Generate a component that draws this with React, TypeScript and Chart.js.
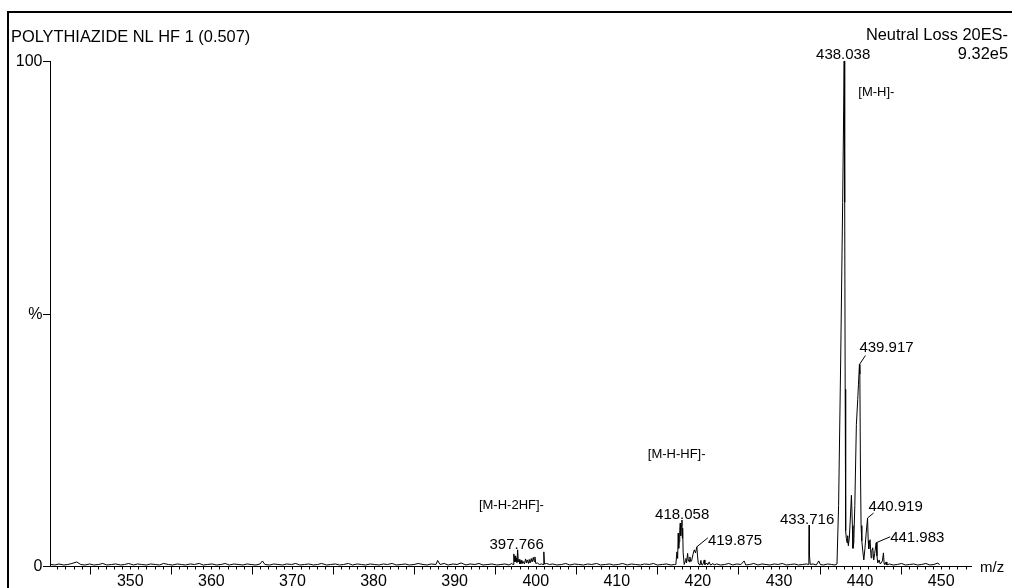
import React, { useEffect, useRef } from "react";
import { Chart, registerables } from "chart.js";

Chart.register(...registerables);

// ---------- axis ranges ----------
const X_MIN = 340.1;
const X_MAX = 453.8;
const Y_MIN = 0;
const Y_MAX = 100;

// ---------- spectrum profile, [m/z, relative intensity %] ----------
const noiseLow: [number, number][] = [
  [340.2, 0.3], [340.7, 0.2], [341.2, 0.4], [341.8, 0.2], [342.3, 0.3], [342.8, 0.5], [343.4, 0.8], [343.9, 0.3],
  [344.4, 0.2], [345.0, 0.4], [345.5, 0.2], [346.1, 0.3], [346.6, 0.5], [347.1, 0.2], [347.7, 0.3], [348.2, 0.4],
  [348.8, 0.2], [349.3, 0.3], [349.8, 0.5], [350.4, 0.2], [350.9, 0.4], [351.4, 0.3], [352.0, 0.2], [352.5, 0.4],
  [353.1, 0.3], [353.6, 0.2], [354.1, 0.5], [354.7, 0.3], [355.2, 0.2], [355.8, 0.4], [356.3, 0.3], [356.8, 0.2],
  [357.4, 0.4], [357.9, 0.3], [358.5, 0.5], [359.0, 0.2], [359.5, 0.3], [360.1, 0.4], [360.6, 0.2], [361.2, 0.3],
  [361.7, 0.5], [362.2, 0.2], [362.8, 0.4], [363.3, 0.3], [363.9, 0.2], [364.4, 0.4], [364.9, 0.3], [365.5, 0.2],
  [366.0, 0.4], [366.3, 1.0], [366.6, 0.3], [367.2, 0.2], [367.7, 0.4], [368.2, 0.3], [368.8, 0.2], [369.3, 0.4],
  [369.9, 0.3], [370.4, 0.5], [370.9, 0.2], [371.5, 0.3], [372.0, 0.4], [372.6, 0.2], [373.1, 0.3], [373.6, 0.5],
  [374.2, 0.2], [374.7, 0.3], [375.3, 0.4], [375.8, 0.2], [376.3, 0.3], [376.9, 0.5], [377.4, 0.2], [378.0, 0.4],
  [378.5, 0.3], [379.0, 0.2], [379.6, 0.4], [380.1, 0.3], [380.7, 0.2], [381.2, 0.4], [381.7, 0.3], [382.3, 0.5],
  [382.8, 0.2], [383.4, 0.3], [383.9, 0.4], [384.4, 0.2], [385.0, 0.3], [385.5, 0.5], [386.1, 0.3], [386.6, 0.2],
  [387.1, 0.4], [387.7, 0.3], [387.9, 1.1], [388.2, 0.3], [388.7, 0.5], [389.2, 0.2], [389.8, 0.4], [390.3, 0.3],
  [390.8, 0.6], [391.4, 0.2], [391.9, 0.4], [392.5, 0.3], [393.0, 0.5], [393.5, 0.2], [394.1, 0.3], [394.6, 0.4],
  [395.2, 0.2], [395.7, 0.3], [396.2, 0.4], [396.7, 0.2],
];

const cluster397: [number, number][] = [
  [397.05, 0.5], [397.2, 0.3], [397.3, 2.4], [397.38, 0.8], [397.45, 2.0], [397.52, 0.9], [397.6, 1.6], [397.68, 0.7],
  [397.77, 3.2], [397.85, 0.8], [397.95, 1.3], [398.05, 0.4], [398.2, 1.1], [398.3, 0.5], [398.45, 0.9], [398.6, 0.4],
  [398.75, 1.4], [398.85, 0.6], [398.95, 1.2], [399.1, 0.5], [399.2, 1.3], [399.3, 0.6], [399.45, 1.5], [399.55, 0.8],
  [399.7, 1.7], [399.8, 0.9], [399.9, 1.8], [400.0, 0.5], [400.2, 0.6], [400.45, 0.3], [400.7, 0.4], [400.9, 0.3],
  [401.0, 2.8], [401.08, 0.4], [401.35, 0.5], [401.7, 0.3],
];

const noiseMid: [number, number][] = [
  [402.1, 0.4], [402.6, 0.2], [403.2, 0.3], [403.7, 0.5], [404.2, 0.2], [404.8, 0.4], [405.3, 0.3], [405.9, 0.2],
  [406.4, 0.4], [406.9, 0.3], [407.5, 0.5], [408.0, 0.2], [408.6, 0.3], [409.1, 0.4], [409.6, 0.2], [410.2, 0.3],
  [410.7, 0.5], [411.3, 0.2], [411.8, 0.4], [412.3, 0.3], [412.9, 0.2], [413.4, 0.4], [414.0, 0.3], [414.5, 0.5],
  [415.0, 0.2], [415.6, 0.3], [416.1, 0.4], [416.7, 0.2], [417.1, 0.3],
];

const cluster418: [number, number][] = [
  [417.28, 0.3], [417.41, 2.8], [417.5, 1.5], [417.57, 6.5], [417.63, 3.5], [417.69, 4.8], [417.76, 7.0], [417.82, 8.5],
  [417.88, 6.0], [417.95, 8.0], [418.03, 9.1], [418.08, 5.5], [418.12, 7.5], [418.18, 2.6], [418.31, 0.3], [418.45, 1.0],
  [418.52, 1.5], [418.6, 0.6], [418.73, 2.5], [418.82, 1.0], [418.89, 1.2], [418.95, 0.8], [419.01, 1.8], [419.12, 0.9],
  [419.22, 1.0], [419.38, 2.2], [419.55, 3.2], [419.7, 2.6], [419.87, 3.8], [419.95, 2.0], [420.04, 0.6], [420.15, 0.3],
  [420.25, 0.2], [420.37, 1.1], [420.45, 0.3], [420.56, 0.2], [420.68, 0.6], [420.78, 1.2], [420.86, 0.3], [420.93, 0.3],
  [421.1, 0.6], [421.2, 0.2], [421.39, 0.8], [421.5, 0.3], [421.6, 0.2], [421.85, 0.5], [422.0, 0.2],
];

const noiseHigh: [number, number][] = [
  [422.3, 0.4], [422.8, 0.2], [423.3, 0.3], [423.8, 0.5], [424.3, 0.2], [424.8, 0.4], [425.3, 0.3], [425.7, 1.0],
  [425.9, 0.2], [426.4, 0.3], [426.9, 0.5], [427.4, 0.2], [427.9, 0.4], [428.4, 0.3], [428.9, 0.2], [429.4, 0.4],
  [429.9, 0.3], [430.4, 0.5], [430.9, 0.2], [431.4, 0.3], [431.9, 0.4], [432.4, 0.2], [432.9, 0.3], [433.4, 0.4],
];

const peak433: [number, number][] = [
  [433.6, 0.3], [433.68, 3.0], [433.716, 8.1], [433.76, 2.0], [433.85, 0.3],
];

const noisePre438: [number, number][] = [
  [434.2, 0.4], [434.6, 0.2], [434.9, 1.0], [435.1, 0.3], [435.5, 0.2], [436.0, 0.4], [436.5, 0.3], [436.9, 0.2],
  [437.15, 0.4],
];

const cluster438: [number, number][] = [
  [437.35, 12], [437.6, 40], [437.85, 72], [438.038, 100], [438.1, 72], [438.16, 35], [438.22, 7.0], [438.3, 5.5],
  [438.39, 4.6], [438.47, 6.0], [438.55, 4.0], [438.67, 5.5], [438.8, 9.5], [438.93, 14.0], [439.05, 8.0], [439.12, 3.5],
  [439.22, 4.6], [439.35, 12.0], [439.54, 28.0], [439.71, 33.0], [439.8, 36.0], [439.917, 39.9], [439.97, 38.0],
  [440.04, 20.0], [440.12, 8.0], [440.21, 5.0], [440.33, 3.0], [440.46, 1.2], [440.6, 3.5], [440.75, 6.5],
  [440.919, 9.5], [441.0, 5.0], [441.07, 3.4], [441.15, 4.5], [441.23, 5.2], [441.36, 1.6], [441.45, 3.0],
  [441.56, 3.6], [441.68, 1.2], [441.8, 2.5], [441.983, 4.6], [442.08, 2.0], [442.18, 0.6], [442.35, 1.2],
  [442.48, 0.4], [442.59, 0.6], [442.75, 1.0], [442.88, 2.6], [442.96, 0.5], [443.05, 0.3], [443.2, 0.8], [443.3, 0.2],
];

const noiseTail: [number, number][] = [
  [443.6, 0.4], [444.1, 0.2], [444.6, 0.3], [445.1, 0.5], [445.6, 0.2], [446.1, 0.3], [446.6, 0.4], [447.1, 0.2],
  [447.6, 0.3], [448.1, 0.5], [448.6, 0.2], [449.1, 0.3], [449.6, 0.6], [449.8, 0.2],
];

// ---------- annotations ----------
const peakLabelMz = [438.038, 439.917, 440.919, 441.983, 433.716, 418.058, 419.875, 397.766];
const peakLabelIntensity = [100, 39.9, 9.5, 4.6, 8.1, 9.1, 3.8, 3.2];
const peakLabelText = ["438.038", "439.917", "440.919", "441.983", "433.716", "418.058", "419.875", "397.766"];

const fragmentText = ["[M-H]-", "[M-H-HF]-", "[M-H-2HF]-"];
const fragmentMz = [439.78, 417.38, 397.0];
const fragmentIntensity = [93.1, 21.3, 11.3];

const xTickLabels = [350, 360, 370, 380, 390, 400, 410, 420, 430, 440, 450];
const yTickValues = [0, 50, 100];
const yTickLabels = ["0", "%", "100"];

const titleText = "POLYTHIAZIDE NL HF 1 (0.507)";
const scanText = "Neutral Loss 20ES-";
const maxText = "9.32e5";
const xAxisTitle = "m/z";

// label placement (pixel offsets from the peak apex), kept apart from data
type LabelLayout = { mode: "center"; dx: number; dy: number } | { mode: "leader"; lx: number; ly: number; tx: number; ty: number };
const labelLayout: LabelLayout[] = [
  { mode: "center", dx: -1, dy: -2 },
  { mode: "leader", lx: 6, ly: -9, tx: 0, ty: -13 },
  { mode: "leader", lx: 6, ly: -5, tx: 1, ty: -7 },
  { mode: "leader", lx: 14, ly: -6, tx: 14, ty: -1 },
  { mode: "center", dx: -2, dy: -1.5 },
  { mode: "center", dx: 0, dy: -1 },
  { mode: "leader", lx: 11, ly: -9, tx: 11, ty: -1.5 },
  { mode: "center", dx: -1, dy: -1 },
];

const FONT = "'Liberation Sans', Arial, Helvetica, sans-serif";

const spectrum = [
  ...noiseLow, ...cluster397, ...noiseMid, ...cluster418, ...noiseHigh,
  ...peak433, ...noisePre438, ...cluster438, ...noiseTail,
]
  .sort((a, b) => a[0] - b[0])
  .map(([x, y]) => ({ x, y }));

const decor = {
  id: "massLynxDecor",
  beforeDraw(chart: any) {
    const ctx = chart.ctx as CanvasRenderingContext2D;
    ctx.save();
    ctx.fillStyle = "#fff";
    ctx.fillRect(0, 0, chart.width, chart.height);
    ctx.fillStyle = "#000";
    ctx.fillRect(7, 11, chart.width - 7, 2);
    ctx.fillRect(7, 11, 2, chart.height - 11);
    ctx.restore();
  },
  afterDraw(chart: any) {
    const ctx = chart.ctx as CanvasRenderingContext2D;
    const xs = chart.scales.x;
    const ys = chart.scales.y;
    const left = chart.chartArea.left;
    const right = chart.chartArea.right;
    const y0 = ys.getPixelForValue(0);
    const yTop = ys.getPixelForValue(100);
    ctx.save();
    ctx.strokeStyle = "#000";
    ctx.fillStyle = "#000";
    ctx.lineWidth = 1;

    // axes
    ctx.beginPath();
    ctx.moveTo(left + 0.5, yTop);
    ctx.lineTo(left + 0.5, y0 + 0.5);
    ctx.lineTo(right, y0 + 0.5);
    ctx.stroke();

    // x ticks
    ctx.beginPath();
    for (let v = Math.ceil(X_MIN); v <= Math.floor(X_MAX); v++) {
      const px = Math.round(xs.getPixelForValue(v)) + 0.5;
      const len = v % 5 === 0 && v % 10 !== 0 ? 8 : 3;
      ctx.moveTo(px, y0 + 0.5);
      ctx.lineTo(px, y0 + 0.5 + len);
    }
    // y ticks
    yTickValues.forEach((v) => {
      const py = Math.round(ys.getPixelForValue(v)) + 0.5;
      ctx.moveTo(left - 7, py);
      ctx.lineTo(left + 0.5, py);
    });
    ctx.stroke();

    // x labels
    ctx.font = `16px ${FONT}`;
    ctx.textAlign = "center";
    ctx.textBaseline = "alphabetic";
    xTickLabels.forEach((v) => {
      ctx.fillText(String(v), xs.getPixelForValue(v), 586);
    });
    ctx.textAlign = "left";
    ctx.font = `15px ${FONT}`;
    ctx.fillText(xAxisTitle, right + 8, 572);

    // y labels
    ctx.font = `16px ${FONT}`;
    ctx.textAlign = "right";
    ctx.textBaseline = "middle";
    yTickValues.forEach((v, i) => {
      const py = ys.getPixelForValue(v);
      ctx.fillText(yTickLabels[i], left - 7.5, py + 1);
    });

    // header
    ctx.font = `16.4px ${FONT}`;
    ctx.textBaseline = "alphabetic";
    ctx.textAlign = "left";
    ctx.fillText(titleText, 11, 42);
    ctx.textAlign = "right";
    ctx.fillText(scanText, 1008, 39.5);
    ctx.fillText(maxText, 1008, 59);

    // peak labels
    ctx.font = `15px ${FONT}`;
    peakLabelMz.forEach((mz, i) => {
      const ax = xs.getPixelForValue(mz);
      const ay = ys.getPixelForValue(peakLabelIntensity[i]);
      const lay = labelLayout[i];
      if (lay.mode === "center") {
        ctx.textAlign = "center";
        ctx.fillText(peakLabelText[i], ax + lay.dx, ay + lay.dy);
      } else {
        ctx.beginPath();
        ctx.moveTo(ax, ay);
        ctx.lineTo(ax + lay.lx, ay + lay.ly);
        ctx.stroke();
        ctx.textAlign = "left";
        ctx.fillText(peakLabelText[i], ax + lay.tx, ay + lay.ty);
      }
    });

    // fragment annotations
    ctx.font = `13px ${FONT}`;
    fragmentText.forEach((t, i) => {
      const px = xs.getPixelForValue(fragmentMz[i]);
      const py = ys.getPixelForValue(fragmentIntensity[i]);
      ctx.textAlign = i === 0 ? "left" : "center";
      ctx.fillText(t, px, py);
    });
    ctx.restore();
  },
};

export default function App() {
  const ref = useRef<HTMLCanvasElement>(null);
  useEffect(() => {
    const canvas = ref.current;
    if (!canvas) return;
    const chart = new Chart(canvas, {
      type: "line",
      data: {
        datasets: [
          {
            data: spectrum,
            borderColor: "#000",
            borderWidth: 1,
            pointRadius: 0,
            tension: 0,
            fill: false,
            clip: false,
          } as any,
        ],
      },
      options: {
        animation: false,
        responsive: false,
        devicePixelRatio: 1,
        events: [],
        layout: { padding: { left: 50, right: 40, top: 61, bottom: 22 } },
        plugins: {
          legend: { display: false },
          tooltip: { enabled: false },
          title: { display: false },
        },
        scales: {
          x: { type: "linear", min: X_MIN, max: X_MAX, display: false },
          y: { type: "linear", min: Y_MIN, max: Y_MAX, display: false },
        },
      },
      plugins: [decor],
    });
    return () => chart.destroy();
  }, []);
  return (
    <div style={{ position: "fixed", left: 0, top: 0, width: 1012, height: 588, background: "#fff" }}>
      <canvas ref={ref} width={1012} height={588} style={{ display: "block", width: 1012, height: 588 }} />
    </div>
  );
}
